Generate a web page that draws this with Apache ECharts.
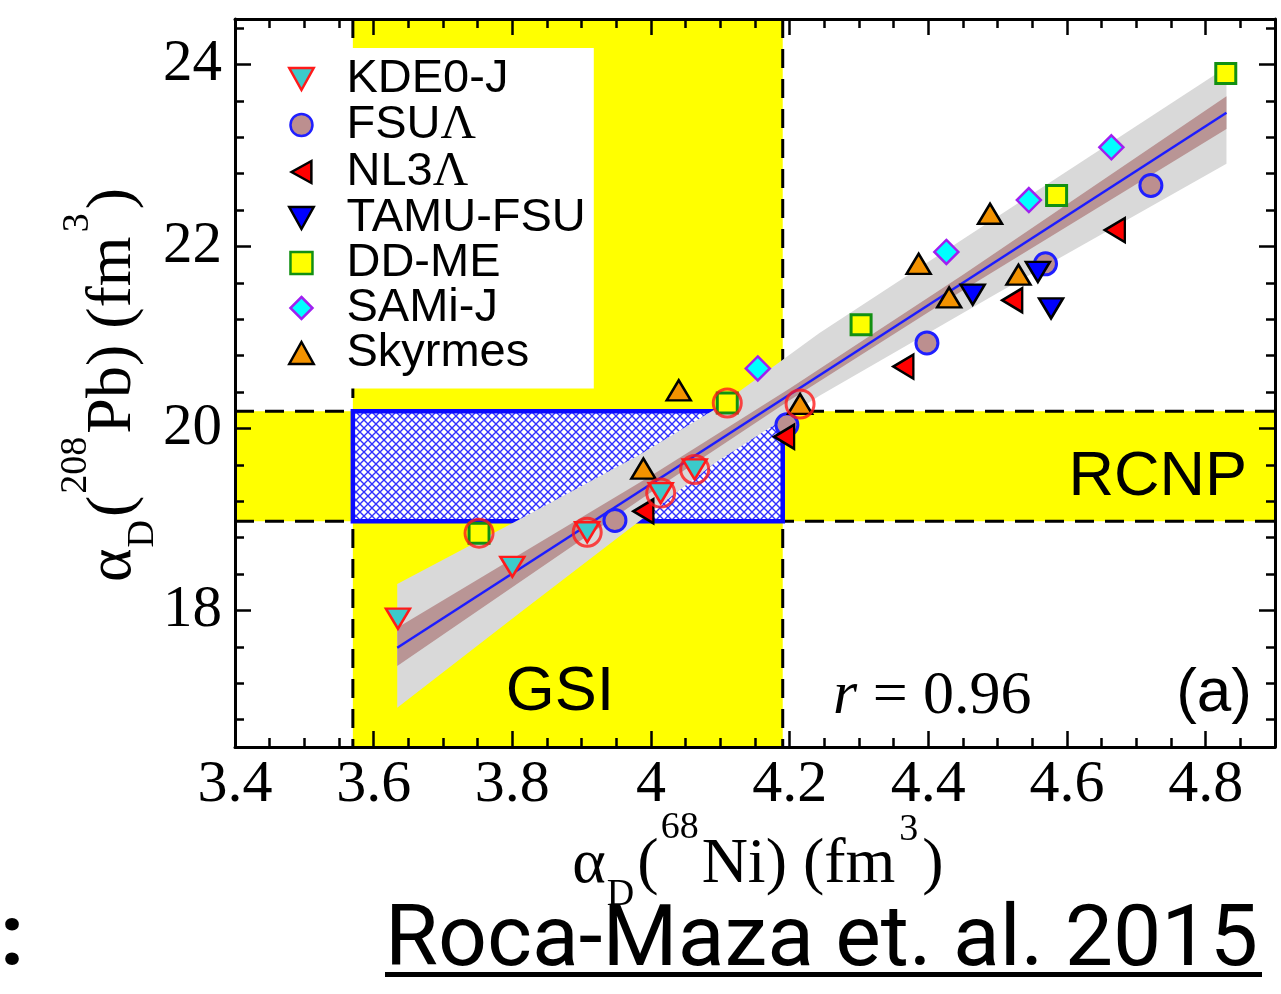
<!DOCTYPE html>
<html>
<head>
<meta charset="utf-8">
<script src="https://cdn.jsdelivr.net/npm/echarts@6/dist/echarts.min.js"></script>
<style>
  html, body { margin: 0; padding: 0; background: #fff; }
  #chart { width: 1281px; height: 994px; }
</style>
</head>
<body>
<div id="chart"></div>
<script>
// Dipole polarizability of 68Ni against 208Pb for a family of energy density functionals

// ---- axes ----
const xTicks = [3.4, 3.6, 3.8, 4.0, 4.2, 4.4, 4.6, 4.8];
const xTickLabels = ['3.4', '3.6', '3.8', '4', '4.2', '4.4', '4.6', '4.8'];
const yTicks = [18, 20, 22, 24];
const yTickLabels = ['18', '20', '22', '24'];
const xRange = [3.4, 4.9];
const yRange = [16.5, 24.5];
const xMinorTicks = [];
for (let k = 1; k < 30; k++) xMinorTicks.push(+(3.4 + 0.05 * k).toFixed(2));
const yMinorTicks = [];
for (let k = 0; k < 20; k++) yMinorTicks.push(+(16.8 + 0.4 * k).toFixed(1));

// ---- experimental constraints ----
const gsiRange = [3.57, 4.19];    // alpha_D(68Ni), GSI
const rcnpRange = [18.98, 20.19]; // alpha_D(208Pb), RCNP

// ---- model predictions [alpha_D(68Ni), alpha_D(208Pb)] ----
const kde0j = [[3.635, 17.91], [3.800, 18.48], [3.908, 18.86], [4.014, 19.29], [4.063, 19.55]];
const fsuL = [[3.948, 18.99], [4.196, 20.04], [4.398, 20.94], [4.569, 21.81], [4.721, 22.67]];
const nl3L = [[3.989, 19.09], [4.192, 19.91], [4.364, 20.68], [4.521, 21.41], [4.669, 22.18]];
const tamuFsu = [[4.464, 21.47], [4.558, 21.72], [4.577, 21.32]];
const ddme = [[3.752, 18.85], [4.110, 20.28], [4.303, 21.14], [4.585, 22.56], [4.829, 23.90]];
const samij = [[4.154, 20.66], [4.426, 21.94], [4.545, 22.51], [4.664, 23.09]];
const skyrmes = [[3.989, 19.56], [4.040, 20.42], [4.215, 20.27], [4.386, 21.81], [4.430, 21.44], [4.489, 22.36], [4.530, 21.69]];
// models compatible with both measurements
const compatible = [[3.752, 18.85], [3.908, 18.86], [4.014, 19.29], [4.063, 19.55], [4.110, 20.28], [4.215, 20.27]];

// ---- linear fit and its bands ----
const fitX = [3.634, 4.83];
const fitY = [17.59, 23.47];
const grayX = [3.634, 3.81, 3.983, 4.09, 4.243, 4.5, 4.83];
const grayHi = [18.29, 19.00, 19.71, 20.20, 21.05, 22.33, 23.97];
const grayLo = [16.93, 17.97, 18.98, 19.61, 20.36, 21.49, 22.91];
const brownX = [3.634, 4.0, 4.2, 4.45, 4.83];
const brownHi = [17.81, 19.48, 20.44, 21.69, 23.65];
const brownLo = [17.39, 19.30, 20.31, 21.52, 23.29];

const correlation = 'r = 0.96';

// ---- symbols ----
const SYM_DOWN = 'path://M0,0L20,0L10,18Z';
const SYM_UP = 'path://M10,0L20,18L0,18Z';
const SYM_LEFT = 'path://M18,0L18,20L0,10Z';
const SYM_SQUARE = 'path://M0,0H10V10H0Z';
const SYM_DIAMOND = 'path://M5,0L10,5L5,10L0,5Z';

// cross-hatch tile for the overlap of the two constraints
const tile = document.createElement('canvas');
tile.width = 8; tile.height = 8;
(function () {
  const g = tile.getContext('2d');
  g.fillStyle = '#ffffff';
  g.fillRect(0, 0, 8, 8);
  g.strokeStyle = '#3030ff';
  g.lineWidth = 1.4;
  g.beginPath();
  g.moveTo(-1, -1); g.lineTo(9, 9);
  g.moveTo(9, -1); g.lineTo(-1, 9);
  g.stroke();
})();

const serif = 'Liberation Serif';
const sans = 'Liberation Sans';

// axis titles: pieces laid out on a common baseline, with raised / lowered scripts
const measureCtx = document.createElement('canvas').getContext('2d');
function textWidth(t, size) {
  measureCtx.font = size + 'px "' + serif + '"';
  return measureCtx.measureText(t).width;
}
function titlePieces(pieces) {
  let x = 0;
  const kids = [];
  pieces.forEach(p => {
    kids.push({
      type: 'text', x, y: p.dy - 0.3375 * p.s,
      style: { text: p.t, fontFamily: serif, fontSize: p.s, fill: '#000', align: 'left', verticalAlign: 'middle' }
    });
    x += textWidth(p.t, p.s) + (p.gap || 0);
  });
  kids.forEach(k => { k.x -= x / 2; });
  return kids;
}
const xTitle = [
  { t: 'α', s: 64, dy: 0, gap: 1 }, { t: 'D', s: 38, dy: 21, gap: 3 }, { t: '(', s: 64, dy: 0, gap: 2 },
  { t: '68', s: 38, dy: -46, gap: 3 }, { t: 'Ni) (fm', s: 64, dy: 0, gap: 4 },
  { t: '3', s: 38, dy: -44, gap: 4 }, { t: ')', s: 64, dy: 0 }
];
const yTitle = [
  { t: 'α', s: 64, dy: 0, gap: 1 }, { t: 'D', s: 38, dy: 21, gap: 3 }, { t: '(', s: 64, dy: 0, gap: 2 },
  { t: '208', s: 38, dy: -46, gap: 3 }, { t: 'Pb) (fm', s: 64, dy: 0, gap: 4 },
  { t: '3', s: 38, dy: -44, gap: 4 }, { t: ')', s: 64, dy: 0 }
];

function scatter(name, data, symbol, size, fill, border, bw) {
  return {
    name, type: 'scatter', data, symbol, symbolSize: size, z: 7,
    itemStyle: { color: fill, borderColor: border, borderWidth: bw, opacity: 1 },
    emphasis: { disabled: true }
  };
}

function band(xs, hi, lo, color, z) {
  return {
    type: 'custom', z, silent: true, data: [[xs[0], lo[0]]],
    renderItem(params, api) {
      const pts = [];
      for (let i = 0; i < xs.length; i++) pts.push(api.coord([xs[i], hi[i]]));
      for (let i = xs.length - 1; i >= 0; i--) pts.push(api.coord([xs[i], lo[i]]));
      return { type: 'polygon', shape: { points: pts }, style: { fill: color } };
    }
  };
}

function xAxis(position, ticks, len, major) {
  return {
    type: 'value', gridIndex: 0, position, min: xRange[0], max: xRange[1], z: 20,
    axisLine: { show: major, onZero: false, lineStyle: { color: '#000', width: 3 } },
    axisTick: { show: true, inside: true, length: len, customValues: ticks, lineStyle: { color: '#000', width: 2.5 } },
    axisLabel: { show: false },
    splitLine: { show: false }
  };
}
function yAxis(position, ticks, len, major) {
  return {
    type: 'value', gridIndex: 0, position, min: yRange[0], max: yRange[1], z: 20,
    axisLine: { show: major, onZero: false, lineStyle: { color: '#000', width: 3 } },
    axisTick: { show: true, inside: true, length: len, customValues: ticks, lineStyle: { color: '#000', width: 2.5 } },
    axisLabel: { show: false },
    splitLine: { show: false }
  };
}

const xAxes = [
  xAxis('bottom', xTicks, 16, true),
  xAxis('bottom', xMinorTicks, 9, false),
  xAxis('top', xTicks, 16, true),
  xAxis('top', xMinorTicks, 9, false)
];
xAxes[0].axisLabel = {
  show: true, customValues: xTicks, margin: 8,
  fontFamily: serif, fontSize: 60, color: '#000',
  formatter: v => xTickLabels[xTicks.findIndex(t => Math.abs(t - v) < 1e-6)]
};
const yAxes = [
  yAxis('left', yTicks, 16, true),
  yAxis('left', yMinorTicks, 9, false),
  yAxis('right', yTicks, 16, true),
  yAxis('right', yMinorTicks, 9, false)
];
yAxes[0].axisLabel = {
  show: true, customValues: yTicks, margin: 13,
  fontFamily: serif, fontSize: 59, color: '#000',
  formatter: v => yTickLabels[yTicks.findIndex(t => Math.abs(t - v) < 1e-6)]
};

const legendNames = ['KDE0-J', 'FSUΛ', 'NL3Λ', 'TAMU-FSU', 'DD-ME', 'SAMi-J', 'Skyrmes'];

const chart = echarts.init(document.getElementById('chart'), null, { renderer: 'canvas' });
chart.setOption({
  animation: false,
  backgroundColor: '#ffffff',
  grid: { left: 235, right: 6, top: 19, bottom: 247, containLabel: false, outerBoundsMode: 'none' },
  xAxis: xAxes,
  yAxis: yAxes,
  legend: {
    data: legendNames,
    orient: 'vertical',
    left: 283, top: 48,
    padding: [7.5, 8, 12, 5],
    itemGap: -2,
    itemWidth: 80, itemHeight: 22,
    symbolKeepAspect: true,
    backgroundColor: '#ffffff',
    selectedMode: false,
    z: 15,
    itemStyle: { borderWidth: 2.5 },
    textStyle: {
      fontFamily: sans, fontSize: 47, lineHeight: 45.5, color: '#000',
      rich: { g: { fontFamily: serif, fontSize: 49, lineHeight: 45.5, color: '#000' } }
    },
    formatter: name => name.replace('Λ', '{g|Λ}')
  },
  series: [
    // yellow bands of the two measurements
    {
      type: 'custom', z: 1, silent: true, data: [[gsiRange[0], rcnpRange[0]]],
      renderItem(params, api) {
        const cs = params.coordSys;
        const xa = api.coord([gsiRange[0], yRange[0]])[0];
        const xb = api.coord([gsiRange[1], yRange[0]])[0];
        const ya = api.coord([xRange[0], rcnpRange[1]])[1];
        const yb = api.coord([xRange[0], rcnpRange[0]])[1];
        const dash = { stroke: '#000', lineWidth: 3, lineDash: [19, 11] };
        return {
          type: 'group', children: [
            { type: 'rect', shape: { x: xa, y: cs.y, width: xb - xa, height: cs.height }, style: { fill: '#ffff00' } },
            { type: 'rect', shape: { x: cs.x, y: ya, width: cs.width, height: yb - ya }, style: { fill: '#ffff00' } },
            { type: 'line', shape: { x1: xa, y1: cs.y, x2: xa, y2: cs.y + cs.height }, style: dash },
            { type: 'line', shape: { x1: xb, y1: cs.y, x2: xb, y2: cs.y + cs.height }, style: dash },
            { type: 'line', shape: { x1: cs.x, y1: ya, x2: cs.x + cs.width, y2: ya }, style: dash },
            { type: 'line', shape: { x1: cs.x, y1: yb, x2: cs.x + cs.width, y2: yb }, style: dash }
          ]
        };
      }
    },
    // overlap of the two constraints
    {
      type: 'custom', z: 2, silent: true, data: [[gsiRange[0], rcnpRange[0]]],
      renderItem(params, api) {
        const p0 = api.coord([gsiRange[0], rcnpRange[1]]);
        const p1 = api.coord([gsiRange[1], rcnpRange[0]]);
        return {
          type: 'rect',
          shape: { x: p0[0], y: p0[1], width: p1[0] - p0[0], height: p1[1] - p0[1] },
          style: { fill: { image: tile, repeat: 'repeat' }, stroke: '#0a0aff', lineWidth: 4.5 }
        };
      }
    },
    band(grayX, grayHi, grayLo, '#d9d9d9', 3),
    band(brownX, brownHi, brownLo, '#b99595', 4),
    {
      type: 'line', z: 5, silent: true, showSymbol: false,
      data: [[fitX[0], fitY[0]], [fitX[1], fitY[1]]],
      lineStyle: { color: '#1c1cff', width: 2.5 }
    },
    scatter('KDE0-J', kde0j, SYM_DOWN, [24, 20], '#3ccaca', '#ff1a1a', 2.5),
    scatter('FSUΛ', fsuL, 'circle', 22, '#bc8f8f', '#1f1fff', 3),
    scatter('NL3Λ', nl3L, SYM_LEFT, [20, 24], '#ff0000', '#000000', 2.5),
    scatter('TAMU-FSU', tamuFsu, SYM_DOWN, [24, 20], '#0000ff', '#000000', 2.5),
    scatter('DD-ME', ddme, SYM_SQUARE, 20, '#ffff00', '#129012', 3),
    scatter('SAMi-J', samij, SYM_DIAMOND, 24, '#00ffff', '#a020f0', 2.5),
    scatter('Skyrmes', skyrmes, SYM_UP, [24, 20], '#f39200', '#000000', 2.5),
    {
      name: 'compatible', type: 'scatter', data: compatible, symbol: 'circle', symbolSize: 28, z: 8,
      itemStyle: { color: 'rgba(0,0,0,0)', borderColor: '#ff1a1a', borderWidth: 3 },
      emphasis: { disabled: true }
    }
  ],
  graphic: [
    { type: 'text', x: 560, y: 693, z: 30, style: { text: 'GSI', fontFamily: sans, fontSize: 63, fill: '#000', align: 'center', verticalAlign: 'middle' } },
    { type: 'text', x: 1247, y: 478, z: 30, style: { text: 'RCNP', fontFamily: sans, fontSize: 63, fill: '#000', align: 'right', verticalAlign: 'middle' } },
    {
      type: 'text', x: 833, y: 697, z: 30,
      style: {
        text: '{i|' + correlation.charAt(0) + '}{n|' + correlation.slice(1) + '}',
        align: 'left', verticalAlign: 'middle',
        rich: {
          i: { fontFamily: serif, fontStyle: 'italic', fontSize: 62, fill: '#000' },
          n: { fontFamily: serif, fontSize: 62, fill: '#000' }
        }
      }
    },
    { type: 'text', x: 1252, y: 694, z: 30, style: { text: '(a)', fontFamily: sans, fontSize: 62, fill: '#000', align: 'right', verticalAlign: 'middle' } },
    { type: 'group', x: 758, y: 887, z: 30, children: titlePieces(xTitle) },
    { type: 'group', x: 135, y: 385, z: 30, rotation: Math.PI / 2, children: titlePieces(yTitle) },
    { type: 'text', x: 0, y: 943, z: 30, style: { text: ':', fontFamily: 'Roboto', fontWeight: 'bold', fontSize: 86, fill: '#000', align: 'left', verticalAlign: 'middle' } },
    { type: 'text', x: 385, y: 943, z: 30, style: { text: 'Roca-Maza et. al. 2015', fontFamily: 'Roboto', fontSize: 86, fill: '#000', align: 'left', verticalAlign: 'middle' } },
    { type: 'rect', z: 30, shape: { x: 385, y: 972, width: 877, height: 5 }, style: { fill: '#000' } }
  ]
});
</script>
</body>
</html>
